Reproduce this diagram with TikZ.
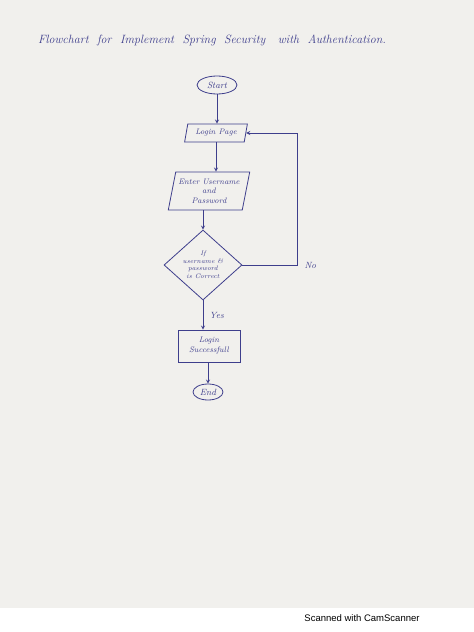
\documentclass[tikz,border=0pt]{standalone}
\usepackage{fontspec}
\usepackage{tikz}
\usetikzlibrary{calc}
\usetikzlibrary{arrows,shapes,shapes.geometric}
\usetikzlibrary{positioning}
\usepackage{xcolor}
\definecolor{ink}{RGB}{62,62,140}
\definecolor{paper}{RGB}{241,240,237}
\newfontfamily\scanfont{Liberation Sans}
\newcommand{\hw}{\itshape\color{ink}}

\begin{document}
\begin{tikzpicture}[x=1pt,y=-1pt,
    inkline/.style={draw=ink, line width=0.8pt},
    flow/.style={inkline,->,>=stealth},
    term/.style={ellipse, inkline, inner sep=1pt, font=\hw\fontsize{9}{10}\selectfont},
    io/.style={trapezium, trapezium left angle=75, trapezium right angle=105,
      trapezium stretches=true, inkline, align=center, inner sep=1pt,
      font=\hw\fontsize{8}{9.5}\selectfont},
    proc/.style={rectangle, inkline, align=center, inner sep=1pt,
      font=\hw\fontsize{8}{10}\selectfont},
    decide/.style={diamond, inkline, align=center, inner sep=0pt,
      font=\hw\fontsize{6.5}{7.5}\selectfont},
    lbl/.style={font=\hw\fontsize{9}{10}\selectfont}]
    \fill[paper] (0,0) rectangle (474,608);
    \fill[white] (0,608) rectangle (474,632);
    \node[lbl, font=\hw\fontsize{12}{14}\selectfont] (title) at (212,40)
      {Flowchart \ for \ Implement \ Spring \ Security \ \ with \ Authentication.};
    \node[term, minimum width=40pt, minimum height=18pt] (start) at (217,85) {Start};
    \node[io, minimum width=63pt, minimum height=18pt] (page) at (216,133) {Login Page};
    \node[io, minimum width=82pt, minimum height=38pt] (enter) at (209,191)
      {Enter Username\\and\\Password};
    \node[decide, minimum width=78pt, minimum height=70pt] (check) at (203,265)
      {If\\username \&\\password\\is Correct};
    \node[proc, minimum width=62pt, minimum height=32pt] (ok) at (209,346)
      {Login\\Successfull};
    \node[term, minimum width=30pt, minimum height=16pt] (end) at (208,392) {End};
    \coordinate (turn) at (297,265);
    \draw[flow] (start) -- (start |- page.north);
    \draw[flow] (page.south) -- (page.south |- enter.north);
    \draw[flow] (enter.south -| check.north) -- (check.north);
    \draw[flow] (check.east) -- (turn) |- (page.east);
    \node[lbl, right=4pt of turn] (no) {No};
    \draw[flow] (check.south) -- (check.south |- ok.north)
      node[lbl, midway, right=3pt] (yes) {Yes};
    \draw[flow] (ok.south -| end.north) -- (end.north);
    \node[font=\scanfont\fontsize{9.5}{11}\selectfont] (scan) at (362,618)
      {Scanned with CamScanner};
\end{tikzpicture}
\end{document}
